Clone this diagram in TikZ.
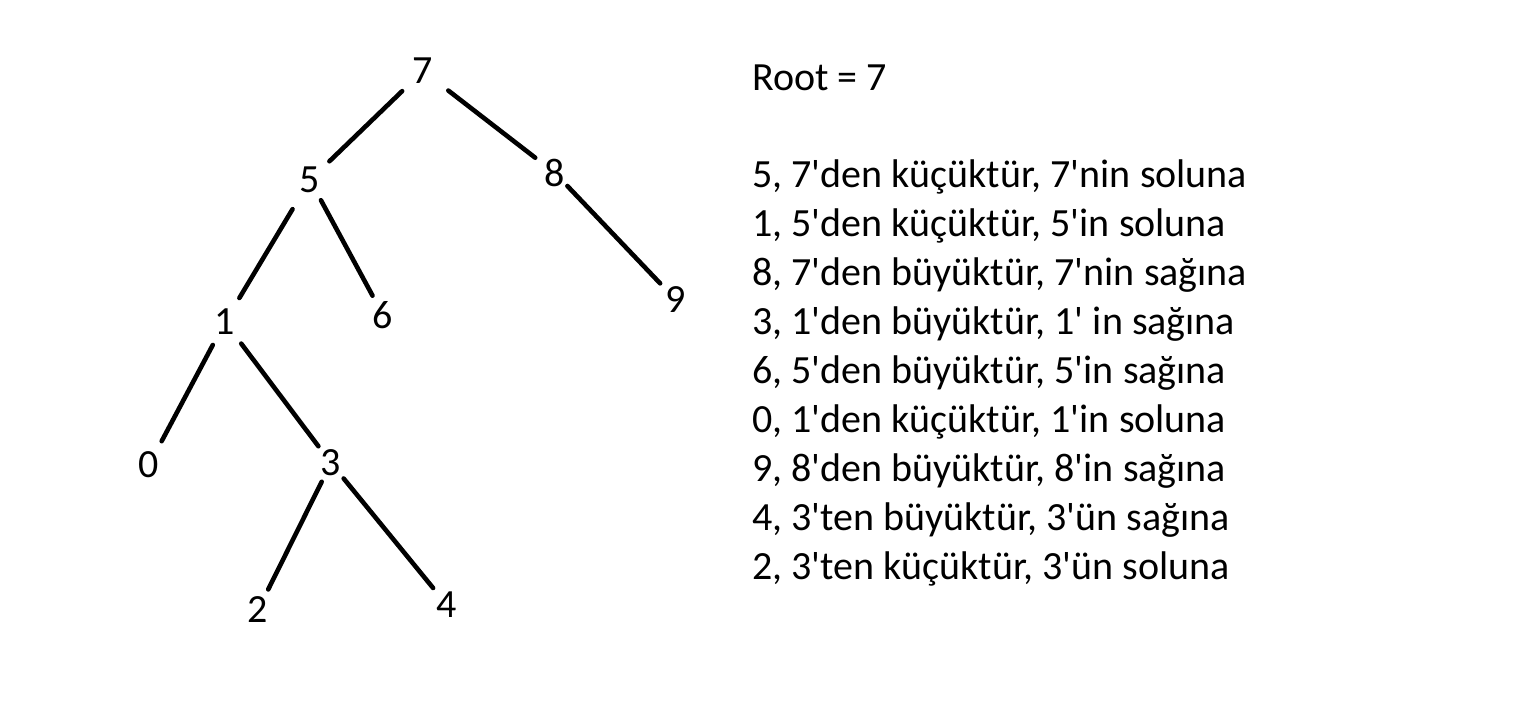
\documentclass[tikz,border=0pt]{standalone}
\usepackage{fontspec}
\setmainfont{Carlito}
\newcommand{\apos}{\textquotesingle}
\begin{document}
\begin{tikzpicture}[x=1pt,y=-1pt,
  num/.style={inner sep=0pt,font=\fontsize{40}{49}\selectfont},
  txt/.style={inner sep=0pt,anchor=base west,font=\fontsize{40}{49}\selectfont},
  edge/.style={line width=4.6pt,line cap=round}]
\useasboundingbox[fill=white] (0,0) rectangle (1539,716);
% tree nodes
\node[num] (n7) at (423,71) {7};
\node[num] (n5) at (310,180) {5};
\node[num] (n8) at (555,173) {8};
\node[num] (n1) at (225,322) {1};
\node[num] (n6) at (383,315) {6};
\node[num] (n9) at (676,300) {9};
\node[num] (n0) at (149,465) {0};
\node[num] (n3) at (331,463) {3};
\node[num] (n2) at (258,610) {2};
\node[num] (n4) at (447,605) {4};
% edges
\draw[edge,shorten <=29pt,shorten >=27pt] (n7.center) -- (n5.center);
\draw[edge,shorten <=32pt,shorten >=25pt] (n7.center) -- (n8.center);
\draw[edge,shorten <=34pt,shorten >=28pt] (n5.center) -- (n1.center);
\draw[edge,shorten <=23pt,shorten >=22pt] (n5.center) -- (n6.center);
\draw[edge,shorten <=18pt,shorten >=23pt] (n8.center) -- (n9.center);
\draw[edge,shorten <=26pt,shorten >=27pt] (n1.center) -- (n0.center);
\draw[edge,shorten <=27pt,shorten >=21pt] (n1.center) -- (n3.center);
\draw[edge,shorten <=21pt,shorten >=23pt] (n3.center) -- (n2.center);
\draw[edge,shorten <=20pt,shorten >=22pt] (n3.center) -- (n4.center);
% text
\node[txt] (t0) at (752,90) {Root = 7};
\node[txt] (t1) at (752,187) {5, 7\apos den küçüktür, 7\apos nin soluna};
\node[txt] (t2) at (752,236) {1, 5\apos den küçüktür, 5\apos in soluna};
\node[txt] (t3) at (752,285) {8, 7\apos den büyüktür, 7\apos nin sağına};
\node[txt] (t4) at (752,334) {3, 1\apos den büyüktür, 1\apos{} in sağına};
\node[txt] (t5) at (752,383) {6, 5\apos den büyüktür, 5\apos in sağına};
\node[txt] (t6) at (752,432) {0, 1\apos den küçüktür, 1\apos in soluna};
\node[txt] (t7) at (752,481) {9, 8\apos den büyüktür, 8\apos in sağına};
\node[txt] (t8) at (752,530) {4, 3\apos ten büyüktür, 3\apos ün sağına};
\node[txt] (t9) at (752,579) {2, 3\apos ten küçüktür, 3\apos ün soluna};
\end{tikzpicture}
\end{document}
